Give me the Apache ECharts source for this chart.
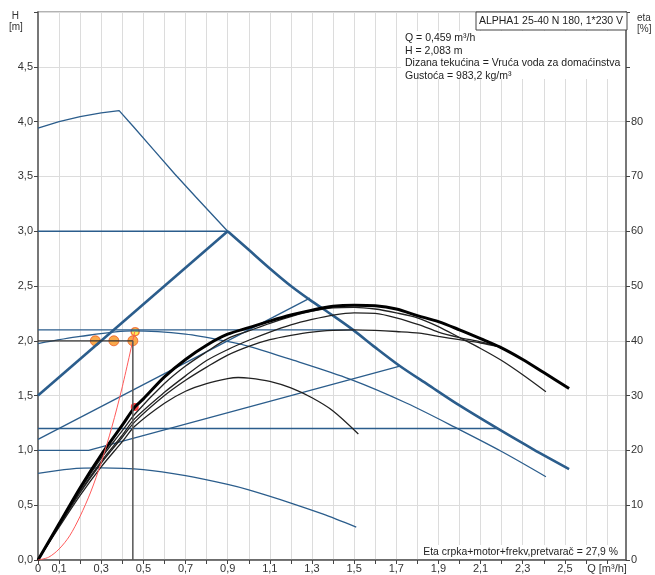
<!DOCTYPE html>
<html>
<head>
<meta charset="utf-8">
<script src="https://cdn.jsdelivr.net/npm/echarts@6/dist/echarts.min.js"></script>
<style>
  html, body { margin: 0; padding: 0; background: #fff; }
  #pump-chart { width: 655px; height: 575px; }
</style>
</head>
<body>
<div id="pump-chart"></div>
<script>
// H-Q curves of the pump, values [Q m3/h, H m]
var maxCurve = [[0, 3.94], [0.1, 4.0], [0.2, 4.045], [0.3, 4.08], [0.385, 4.10], [0.45, 3.96], [0.55, 3.74], [0.65, 3.52], [0.75, 3.31], [0.9, 3.0]];
var ppHighRise = [[0, 1.5], [0.9, 3.0]];
var ppHighFall = [[0.9, 3.0], [1.0, 2.83], [1.1, 2.66], [1.2, 2.50], [1.3, 2.36], [1.4, 2.23], [1.495, 2.10], [1.6, 1.94], [1.717, 1.77], [1.85, 1.60], [2.0, 1.41], [2.18, 1.20], [2.35, 1.01], [2.52, 0.83]];
var cp3 = [[0, 3.0], [0.9, 3.0]];
var cp21 = [[0, 2.1], [1.495, 2.1]];
var cp12 = [[0, 1.2], [2.18, 1.2]];
var ppMid = [[0, 1.1], [1.29, 2.39]];
var ppLow = [[0, 1.0], [0.24, 1.0], [1.717, 1.77]];
var minCurve = [[0, 0.79], [0.15, 0.83], [0.3, 0.84], [0.5, 0.825], [0.7, 0.77], [0.9, 0.69], [1.0, 0.64], [1.2, 0.52], [1.35, 0.42], [1.51, 0.30]];
var midCurve = [[0, 1.975], [0.2, 2.04], [0.45, 2.09], [0.7, 2.06], [0.91, 1.99], [1.0, 1.95], [1.2, 1.83], [1.48, 1.65], [1.75, 1.43], [2.0, 1.19], [2.2, 0.99], [2.41, 0.76]];

// efficiency curves, values [Q m3/h, eta %]
var etaSel = [[0, 0], [0.1, 6.6], [0.2, 13.2], [0.3, 19.2], [0.4, 24.6], [0.459, 27.9], [0.5, 29.4], [0.6, 33.4], [0.7, 36.6], [0.8, 39.2], [0.9, 41.2], [1.0, 42.4], [1.1, 43.6], [1.2, 44.7], [1.3, 45.6], [1.4, 46.3], [1.5, 46.5], [1.6, 46.4], [1.7, 45.8], [1.8, 44.6], [1.9, 43.5], [2.0, 42.0], [2.1, 40.4], [2.19, 38.9], [2.3, 36.6], [2.4, 34.2], [2.52, 31.3]];
var etaC = [[0, 0], [0.1, 6.4], [0.2, 12.8], [0.3, 18.6], [0.4, 23.6], [0.459, 26.6], [0.6, 32.2], [0.7, 35.4], [0.8, 38], [0.9, 40.4], [1.0, 41.8], [1.1, 43.2], [1.2, 44.4], [1.3, 45.4], [1.4, 46], [1.5, 46.1], [1.6, 45.8], [1.7, 45.1], [1.8, 44.2], [1.9, 42.6], [2.0, 40.6], [2.1, 38.6], [2.2, 36.4], [2.3, 33.8], [2.41, 30.7]];
var etaD = [[0, 0], [0.1, 6.3], [0.2, 12.5], [0.3, 18], [0.4, 22.8], [0.459, 25.8], [0.6, 30.6], [0.7, 33.6], [0.8, 36.4], [0.9, 38.4], [1.0, 40.1], [1.1, 41.6], [1.2, 42.9], [1.3, 43.9], [1.4, 44.7], [1.5, 45.1], [1.6, 45], [1.7, 44.2], [1.81, 42.9], [1.9, 41.6], [2.0, 40.6], [2.1, 39.8], [2.19, 38.9]];
var etaB = [[0, 0], [0.1, 6.2], [0.2, 12.3], [0.3, 17.7], [0.4, 22.4], [0.459, 25.2], [0.6, 30], [0.7, 32.8], [0.8, 35.2], [0.9, 37.4], [1.0, 39], [1.1, 40.2], [1.2, 41], [1.3, 41.6], [1.4, 41.9], [1.5, 42], [1.6, 41.9], [1.7, 41.7], [1.81, 41.4], [1.9, 40.8], [2.0, 40.2], [2.1, 39.6], [2.19, 38.9]];
var etaA = [[0, 0], [0.1, 6], [0.2, 11.8], [0.3, 17], [0.4, 21.6], [0.459, 24.4], [0.6, 28.6], [0.7, 30.8], [0.8, 32.2], [0.9, 33.1], [0.95, 33.3], [1.0, 33.2], [1.1, 32.6], [1.2, 31.4], [1.3, 29.6], [1.4, 27.2], [1.52, 23]];

// system curve and duty point
var systemCurve = [[0, 0], [0.05, 0.025], [0.1, 0.1], [0.15, 0.22], [0.2, 0.4], [0.25, 0.62], [0.3, 0.89], [0.35, 1.21], [0.4, 1.58], [0.459, 2.083]];
var guideH = [[0, 2.0], [0.45, 2.0]];
var guideV = [[0.45, 0], [0.45, 2.0]];
var orangePoints = [[0.272, 2.0], [0.36, 2.0], [0.45, 2.0]];
var dutyPoint = [[0.461, 2.083]];
var etaPoint = [[0.459, 27.9]];

var blue = '#2b5d8c';
var font = 'Liberation Sans, Arial, sans-serif';

function line(data, color, width, yIndex, smooth) {
    return {
        type: 'line',
        data: data,
        yAxisIndex: yIndex,
        showSymbol: false,
        smooth: smooth,
        lineStyle: { color: color, width: width },
        silent: true
    };
}

var chartElement = document.getElementById('pump-chart');
var mychart = echarts.init(chartElement);
var option = {
    animation: false,
    backgroundColor: '#fff',
    grid: { left: 38, right: 29, top: 12, bottom: 15, show: true, borderColor: '#666', borderWidth: 1 },
    xAxis: {
        type: 'value',
        min: 0,
        max: 2.79,
        interval: 0.1,
        axisLine: { onZero: false, lineStyle: { color: '#555', width: 1.5 } },
        axisTick: { show: true, length: 4, lineStyle: { color: '#444' } },
        axisLabel: {
            interval: 0,
            margin: 3,
            color: '#333',
            fontSize: 11,
            fontFamily: font,
            showMaxLabel: false,
            formatter: function (v) {
                var k = Math.round(v * 10);
                if (Math.abs(v * 10 - k) > 1e-6) return '';
                if (k === 0) return '0';
                if (k === 27) return 'Q [m³/h]';
                if (k % 2 === 1) return (k / 10).toFixed(1).replace('.', ',');
                return '';
            }
        },
        splitLine: { show: true, lineStyle: { color: '#dcdcdc', width: 1 } }
    },
    yAxis: [
        {
            type: 'value',
            min: 0,
            max: 5,
            interval: 0.5,
            axisLine: { show: true, lineStyle: { color: '#777', width: 2 } },
            axisTick: { show: true, length: 4, lineStyle: { color: '#444' } },
            axisLabel: {
                margin: 5,
                color: '#333',
                fontSize: 11,
                fontFamily: font,
                formatter: function (v) { return v >= 5 ? '' : v.toFixed(1).replace('.', ','); }
            },
            splitLine: { show: true, lineStyle: { color: '#dcdcdc', width: 1 } }
        },
        {
            type: 'value',
            position: 'right',
            min: 0,
            max: 100,
            interval: 10,
            axisLine: { show: true, lineStyle: { color: '#777', width: 2 } },
            axisTick: { show: true, length: 4, lineStyle: { color: '#444' } },
            axisLabel: {
                margin: 5,
                color: '#333',
                fontSize: 11,
                fontFamily: font,
                formatter: function (v) { return v > 80 ? '' : String(v); }
            },
            splitLine: { show: false }
        }
    ],
    graphic: [
        { type: 'text', left: 9, top: 11, style: { text: ' H\n[m]', fontSize: 10, lineHeight: 11, fill: '#333', fontFamily: font } },
        { type: 'text', left: 637, top: 13, style: { text: 'eta\n[%]', fontSize: 10, lineHeight: 11, fill: '#333', fontFamily: font } },
        { type: 'rect', z: 10, shape: { x: 476, y: 12, width: 151, height: 18 }, style: { fill: '#fff', stroke: '#444', lineWidth: 1 } },
        { type: 'text', z: 11, x: 551, y: 21, style: { text: 'ALPHA1 25-40 N 180, 1*230 V', fontSize: 10.5, fill: '#222', fontFamily: font, textAlign: 'center', textVerticalAlign: 'middle' } },
        { type: 'rect', z: 10, shape: { x: 401, y: 31, width: 224, height: 48 }, style: { fill: '#fff' } },
        {
            type: 'text', z: 11, x: 405, y: 32,
            style: {
                text: 'Q = 0,459 m³/h\nH = 2,083 m\nDizana tekućina = Vruća voda za domaćinstva\nGustoća = 983,2 kg/m³',
                fontSize: 10.5, lineHeight: 12.6, fill: '#222', fontFamily: font
            }
        },
        { type: 'rect', z: 10, shape: { x: 421, y: 545, width: 202, height: 14 }, style: { fill: '#fff' } },
        { type: 'text', z: 11, x: 618, y: 552, style: { text: 'Eta crpka+motor+frekv,pretvarač = 27,9 %', fontSize: 10.4, fill: '#222', fontFamily: font, textAlign: 'right', textVerticalAlign: 'middle' } }
    ],
    series: [
        line(maxCurve, blue, 1.3, 0, false),
        line(cp3, blue, 1.5, 0, false),
        line(cp21, blue, 1.3, 0, false),
        line(cp12, blue, 1.3, 0, false),
        line(ppMid, blue, 1.3, 0, false),
        line(ppLow, blue, 1.3, 0, false),
        line(minCurve, blue, 1.3, 0, 0.3),
        line(midCurve, blue, 1.3, 0, 0.3),
        line(ppHighRise, blue, 2.6, 0, false),
        line(ppHighFall, blue, 2.6, 0, 0.3),
        line(etaA, '#222', 1.3, 1, 0.3),
        line(etaB, '#222', 1.3, 1, 0.3),
        line(etaD, '#222', 1.3, 1, 0.3),
        line(etaC, '#222', 1.3, 1, 0.3),
        line(etaSel, '#000', 3, 1, 0.3),
        line(systemCurve, '#ff5a5a', 1, 0, 0.3),
        line(guideH, '#333', 1.2, 0, false),
        line(guideV, '#555', 1.5, 0, false),
        {
            type: 'scatter', data: orangePoints, symbolSize: 10, silent: true,
            itemStyle: { color: '#f7941d', borderColor: '#ee5a24', borderWidth: 1 }
        },
        {
            type: 'scatter', data: dutyPoint, symbolSize: 8, silent: true,
            itemStyle: { color: '#ffe82a', borderColor: '#ee5a24', borderWidth: 1.5 }
        },
        {
            type: 'scatter', data: etaPoint, yAxisIndex: 1, symbolSize: 8, silent: true,
            itemStyle: { color: '#ff1010' }
        }
    ]
};
mychart.setOption(option);
</script>
</body>
</html>
